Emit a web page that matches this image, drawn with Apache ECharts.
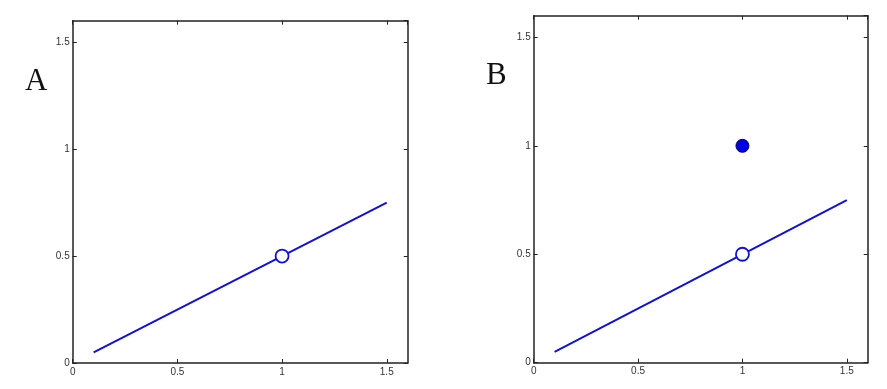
<!DOCTYPE html>
<html>
<head>
<meta charset="utf-8">
<script src="https://cdn.jsdelivr.net/npm/echarts@6/dist/echarts.min.js"></script>
<style>html,body{margin:0;padding:0;background:#fff}#c{width:887px;height:389px}</style>
</head>
<body>
<div id="c"></div>
<script>
var panelLabels = ['A', 'B'];
var lineX = [0.1, 1.5];
var lineY = [0.05, 0.75];
var openPointA = [1, 0.5];
var openPointB = [1, 0.5];
var filledPointB = [1, 1];
var axisMin = 0, axisMax = 1.6, axisStep = 0.5;

var lineData = lineX.map(function (x, i) { return [x, lineY[i]]; });
var chart = echarts.init(document.getElementById('c'));
var blue = '#1010d8';
var axisCol = '#222';

var grids = [
  { left: 72.7, top: 20.7, width: 335, height: 342.3 },
  { left: 533.7, top: 15.7, width: 334, height: 347 }
];

function xAx(g, pos, labels) {
  return {
    type: 'value', gridIndex: g, position: pos, min: axisMin, max: axisMax, interval: axisStep,
    axisLine: { show: true, onZero: false, lineStyle: { color: axisCol, width: 1.5 } },
    axisTick: { show: true, inside: true, length: 4, lineStyle: { color: axisCol, width: 1 } },
    axisLabel: { show: labels, showMaxLabel: false, margin: 4, fontSize: 10, fontFamily: 'Liberation Sans, Arial', color: '#333',
      formatter: function (v) { return String(v); } },
    splitLine: { show: false }
  };
}
function yAx(g, pos, labels) {
  return {
    type: 'value', gridIndex: g, position: pos, min: axisMin, max: axisMax, interval: axisStep,
    axisLine: { show: true, onZero: false, lineStyle: { color: axisCol, width: 1.5 } },
    axisTick: { show: true, inside: true, length: 4, lineStyle: { color: axisCol, width: 1 } },
    axisLabel: { show: labels, showMaxLabel: false, margin: 3, fontSize: 10, fontFamily: 'Liberation Sans, Arial', color: '#333',
      formatter: function (v) { return String(v); } },
    splitLine: { show: false }
  };
}

var option = {
  animation: false,
  backgroundColor: '#fff',
  grid: grids,
  xAxis: [xAx(0, 'bottom', true), xAx(0, 'top', false), xAx(1, 'bottom', true), xAx(1, 'top', false)],
  yAxis: [yAx(0, 'left', true), yAx(0, 'right', false), yAx(1, 'left', true), yAx(1, 'right', false)],
  graphic: [
    { type: 'text', left: 25, top: 66, style: { text: panelLabels[0], font: '31px "Liberation Serif", "DejaVu Serif", serif', fill: '#111' } },
    { type: 'text', left: 486, top: 60, style: { text: panelLabels[1], font: '31px "Liberation Serif", "DejaVu Serif", serif', fill: '#111' } }
  ],
  series: [
    { type: 'line', xAxisIndex: 0, yAxisIndex: 0, data: lineData, symbol: 'none', lineStyle: { color: blue, width: 2 }, z: 2 },
    { type: 'scatter', xAxisIndex: 0, yAxisIndex: 0, data: [openPointA], symbol: 'circle', symbolSize: 13,
      itemStyle: { color: '#fff', borderColor: blue, borderWidth: 1.8, opacity: 1 }, z: 3 },
    { type: 'line', xAxisIndex: 2, yAxisIndex: 2, data: lineData, symbol: 'none', lineStyle: { color: blue, width: 2 }, z: 2 },
    { type: 'scatter', xAxisIndex: 2, yAxisIndex: 2, data: [openPointB], symbol: 'circle', symbolSize: 13,
      itemStyle: { color: '#fff', borderColor: blue, borderWidth: 1.8, opacity: 1 }, z: 3 },
    { type: 'scatter', xAxisIndex: 2, yAxisIndex: 2, data: [filledPointB], symbol: 'circle', symbolSize: 13,
      itemStyle: { color: '#0000e6', borderColor: '#000070', borderWidth: 1, opacity: 1 }, z: 3 }
  ]
};
chart.setOption(option);
</script>
</body>
</html>
